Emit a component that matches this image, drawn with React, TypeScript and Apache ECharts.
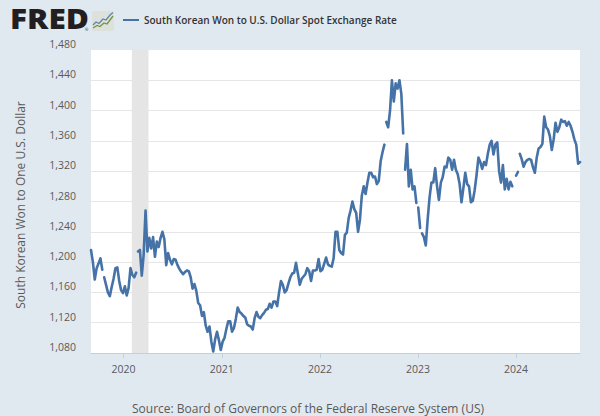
import React, { useEffect, useRef } from "react";
import * as echarts from "echarts";

const START_DATE = "2019-09-02";
const END_DATE = "2024-08-26";
const SERIES_NAME = "South Korean Won to U.S. Dollar Spot Exchange Rate";
const Y_TITLE = "South Korean Won to One U.S. Dollar";
const SOURCE = "Source: Board of Governors of the Federal Reserve System (US)";
const recessions = [["2020-02-01", "2020-04-03"]];
const yMin = 1080;
const yMax = 1480;
const yStep = 40;

// Weekly readings; null marks a break in the published series.
const wonPerDollar: (number | null)[] = [
  1216, 1200, 1177, 1192, 1198, 1205, 1190, null, 1180, 1170, 1160, 1155, 1167, 1178, 1192, 1193,
  1175, 1163, 1159, 1168, 1156, 1166, 1192, 1183, 1180, 1186, null, 1214, 1216, 1182, 1210, 1268,
  1214, 1232, 1218, 1233, 1207, 1227, 1220, 1232, 1240, 1230, 1196, 1212, 1203, 1197, 1204, 1203,
  1196, 1191, 1187, 1184, 1187, 1189, 1188, 1180, 1165, 1171, 1162, 1146, 1143, 1129, 1134, 1116,
  1108, 1115, 1095, 1082, 1098, 1108, 1097, 1084, 1095, 1100, 1112, 1122, 1122, 1108, 1113, 1125,
  1140, 1134, 1132, 1129, 1127, 1118, 1116, 1115, 1111, 1126, 1134, 1128, 1126, 1130, 1133, 1137,
  1138, 1145, 1140, 1148, 1148, 1142, 1160, 1175, 1170, 1160, 1163, 1172, 1180, 1185, 1186, 1199,
  1185, 1170, 1178, 1181, 1184, 1192, 1188, 1175, 1189, 1189, 1190, 1204, 1188, 1190, 1198, 1206,
  1197, 1195, 1194, 1205, 1240, 1240, 1216, 1212, 1210, 1236, 1239, 1258, 1268, 1280, 1270, 1265,
  1240, 1256, 1288, 1300, 1290, 1305, 1318, 1318, 1312, 1313, 1303, 1307, 1333, 1345, 1355, null,
  1385, 1378, 1400, 1440, 1412, 1436, 1429, 1440, 1422, 1370, null, 1322, 1356, 1300, 1322, 1296,
  1300, 1278, null, 1272, 1245, null, 1238, 1233, 1222, 1256, 1285, 1305, 1305, 1324, 1300, 1282,
  1305, 1312, 1326, 1325, 1338, 1335, 1322, 1335, 1322, 1316, 1303, 1279, 1298, 1318, 1303, 1300,
  1279, 1281, 1295, 1315, 1338, 1332, 1323, 1332, 1328, 1343, 1355, 1360, 1342, 1355, 1358, 1320,
  1305, 1328, 1296, 1310, 1296, 1306, 1300, null, 1292, null, 1314, 1319, null, 1343, 1336, 1326,
  1332, 1335, 1336, 1335, 1325, 1318, 1338, 1350, 1352, 1356, 1392, 1378, 1375, 1366, 1348, 1362,
  1384, 1372, 1378, 1388, 1385, 1386, 1380, 1385, 1380, 1372, 1362, 1355, 1330, 1332,
];

const DAY = 86400000;
const WEEK = 7 * DAY;
const startMs = Date.parse(START_DATE);
const chartData: [number, number | null][] = [];
let week = 0;
for (const v of wonPerDollar) {
  if (v === null) {
    chartData.push([startMs + (week - 1) * WEEK + DAY, null]);
  } else {
    chartData.push([startMs + week * WEEK, v]);
    week += 1;
  }
}

const TEXT = "#595959";
const FONT = "'Open Sans', sans-serif";
const LINE = "#4572a7";

export default function App() {
  const ref = useRef<HTMLDivElement>(null);
  useEffect(() => {
    document.body.style.margin = "0";
    const chart = echarts.init(ref.current!, null, { renderer: "svg" });
    chart.setOption({
      animation: false,
      useUTC: true,
      backgroundColor: "#e1e9f0",
      grid: {
        left: 91,
        right: 20,
        top: 50,
        height: 303,
        show: true,
        backgroundColor: "#ffffff",
        borderWidth: 0,
      },
      xAxis: {
        type: "time",
        min: startMs,
        max: Date.parse(END_DATE),
        minInterval: 365 * DAY,
        splitLine: { show: false },
        axisLine: { lineStyle: { color: "#c0d0e0", width: 1 } },
        axisTick: { length: 5, lineStyle: { color: "#c0d0e0", width: 1 } },
        minorTick: { show: false },
        axisLabel: {
          color: TEXT,
          fontFamily: FONT,
          fontSize: 10.5,
          margin: 10,
          showMinLabel: false,
          showMaxLabel: false,
          hideOverlap: false,
          formatter: "{yyyy}",
        },
      },
      yAxis: {
        type: "value",
        min: yMin,
        max: yMax,
        interval: yStep,
        axisLine: { show: false },
        axisTick: { show: false },
        splitLine: { showMaxLine: false, lineStyle: { color: "#e6e6e6", width: 1 } },
        axisLabel: {
          color: TEXT,
          fontFamily: FONT,
          fontSize: 10.5,
          margin: 15,
          verticalAlign: "bottom",
          lineHeight: 12,
          padding: [0, 0, 0, 0],
          formatter: (v: number) => v.toLocaleString("en-US"),
        },
      },
      series: [
        {
          type: "line",
          name: SERIES_NAME,
          data: chartData,
          showSymbol: false,
          connectNulls: false,
          silent: true,
          lineStyle: { color: LINE, width: 2.6, join: "round", cap: "round" },
          itemStyle: { color: LINE },
          markArea: {
            silent: true,
            itemStyle: { color: "#e5e5e5", borderWidth: 0 },
            label: { show: false },
            data: recessions.map(([a, b]) => [{ xAxis: Date.parse(a) }, { xAxis: Date.parse(b) }]),
          },
        },
      ],
      graphic: [
        {
          type: "text",
          x: 10,
          y: 18.5,
          scaleX: 1.17,
          scaleY: 1.05,
          style: {
            text: "FRED",
            fontFamily: "'Open Sans', sans-serif",
            fontWeight: 800,
            fontSize: 27,
            fill: "#231f20",
            verticalAlign: "middle",
          },
        },
        {
          type: "text",
          x: 85,
          y: 29,
          style: { text: "®", fontFamily: FONT, fontSize: 4, fill: "#231f20", verticalAlign: "middle", align: "left" },
        },
        {
          type: "rect",
          shape: { x: 92, y: 11, width: 22, height: 20, r: 2 },
          style: { fill: "#dde1db" },
        },
        {
          type: "polyline",
          shape: { points: [[93, 25], [96, 22], [99, 23.5], [103, 19], [106, 20], [110, 15], [113, 12.5]] },
          style: { stroke: "#5f86ad", lineWidth: 1.3, fill: "none" },
        },
        {
          type: "polyline",
          shape: { points: [[93, 28], [97, 25.5], [100, 26.5], [104, 23], [107, 24], [110, 20], [113, 16]] },
          style: { stroke: "#74963f", lineWidth: 1.3, fill: "none" },
        },
        {
          type: "line",
          shape: { x1: 123, y1: 20, x2: 139, y2: 20 },
          style: { stroke: LINE, lineWidth: 2 },
        },
        {
          type: "text",
          x: 144,
          y: 20,
          style: {
            text: SERIES_NAME,
            fontFamily: FONT,
            fontWeight: 600,
            fontSize: 10,
            fill: "#333333",
            verticalAlign: "middle",
            align: "left",
          },
        },
        {
          type: "text",
          x: 20,
          y: 205,
          rotation: Math.PI / 2,
          style: {
            text: Y_TITLE,
            fontFamily: FONT,
            fontSize: 12,
            fill: TEXT,
            align: "center",
            verticalAlign: "middle",
          },
        },
        {
          type: "text",
          x: 308,
          y: 408.5,
          style: {
            text: SOURCE,
            fontFamily: FONT,
            fontSize: 12,
            fill: TEXT,
            align: "center",
            verticalAlign: "middle",
          },
        },
      ],
    });
    return () => chart.dispose();
  }, []);
  return <div ref={ref} style={{ width: 600, height: 416 }} />;
}
